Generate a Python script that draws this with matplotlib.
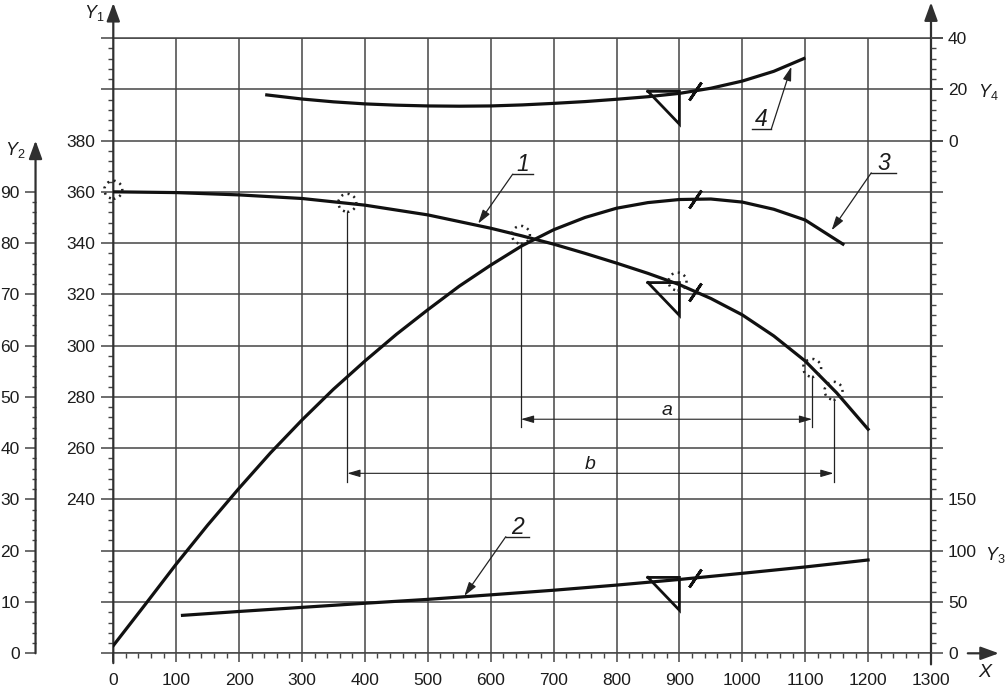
import numpy as np
import matplotlib
matplotlib.use('Agg')
import matplotlib.pyplot as plt
from matplotlib.patches import Ellipse
from matplotlib.ticker import MultipleLocator, FixedLocator

plt.rcParams['font.family'] = ['Liberation Sans', 'DejaVu Sans']
plt.rcParams['mathtext.fontset'] = 'custom'
plt.rcParams['mathtext.rm'] = 'Liberation Sans'
plt.rcParams['mathtext.it'] = 'Liberation Sans:italic'

# curve 1 (left axis Y1)
x1 = [0, 100, 200, 300, 400, 500, 600, 650, 700, 750, 800, 850, 900, 950,
      1000, 1050, 1100, 1150, 1200]
y1 = [360, 359.7, 358.8, 357.4, 354.8, 351.0, 345.8, 342.8, 339.6, 336.0, 332.2,
      328.2, 323.8, 318.4, 312.0, 303.8, 294.0, 281.6, 267.4]
# curve 2 (right axis Y3)
x2 = [110, 200, 300, 400, 500, 600, 700, 800, 900, 1000, 1100, 1200]
y2 = [37.0, 40.8, 44.8, 48.8, 52.6, 57.0, 61.5, 66.5, 72.0, 78.0, 84.2, 91.0]
# curve 3 (left axis Y2)
x3 = [0, 50, 100, 150, 200, 250, 300, 350, 400, 450, 500, 550, 600, 650, 700,
      750, 800, 850, 900, 950, 1000, 1050, 1100, 1160]
y3 = [1.5, 9.4, 17.4, 25.0, 32.2, 39.1, 45.5, 51.5, 57.0, 62.2, 67.0, 71.6, 75.7,
      79.5, 82.6, 85.0, 86.8, 87.9, 88.5, 88.6, 88.0, 86.6, 84.5, 79.8]
# curve 4 (right axis Y4)
x4 = [244, 300, 350, 400, 450, 500, 550, 600, 650, 700, 750, 800, 850, 900, 950,
      1000, 1050, 1098]
y4 = [17.8, 16.2, 15.1, 14.3, 13.8, 13.5, 13.4, 13.5, 13.9, 14.5, 15.2, 16.1, 17.1,
      18.4, 20.4, 23.2, 27.0, 32.0]

# dotted circles on curve 1 and the two dimensions a, b
circle_x = [0, 372, 648, 897, 1111, 1145]
circle_y = [360.8, 355.7, 343.2, 325.0, 291.3, 282.4]
dim_a_x, dim_a_y = [648, 1111], 271.3
dim_b_x, dim_b_y = [372, 1145], 250.2

x_ticks = list(range(0, 1301, 100))
y1_ticks = list(range(180, 421, 20))
y1_labeled = list(range(240, 381, 20))
y2_ticks = list(range(0, 91, 10))
y3_ticks = list(range(0, 601, 50))
y3_labeled = [0, 50, 100, 150]
y4_ticks = [0, 20, 40]

gc = '#454545'
ink = '#111111'
txt = '#1c1c1c'
fs = 12.5

W, H = 1006, 689
L, R, B, T = 113.3, 931.0, 653.3, 38.0
fig = plt.figure(figsize=(W / 100, H / 100), dpi=100)
ax = fig.add_axes([L / W, 1 - B / H, (R - L) / W, (B - T) / H])
ax.set_xlim(0, 1300)
ax.set_ylim(180, 420)

ax.set_xticks(x_ticks)
ax.xaxis.set_minor_locator(MultipleLocator(20))
ax.set_yticks(y1_ticks)
ax.set_yticklabels([str(v) if v in y1_labeled else '' for v in y1_ticks])
ax.yaxis.set_minor_locator(MultipleLocator(4))
ax.grid(True, which='major', color=gc, lw=1.1)
ax.tick_params(axis='x', which='major', direction='out', length=6.5, width=1.1,
               color=gc, labelsize=fs, pad=7.5, labelcolor=txt)
ax.tick_params(axis='x', which='minor', direction='out', length=3.6, width=1.0, color=gc)
ax.tick_params(axis='y', which='major', direction='out', length=8.6, width=1.1,
               color=gc, labelsize=fs, pad=4.3, labelcolor=txt)
ax.tick_params(axis='y', which='minor', direction='out', length=3.6, width=1.0, color=gc)
for s in ['left', 'right']:
    ax.spines[s].set_visible(False)
for s in ['top', 'bottom']:
    ax.spines[s].set_color(gc)
    ax.spines[s].set_linewidth(1.1)

# Y2 axis on the far left
ax2 = ax.twinx()
ax2.set_ylim(0, 120)
for s in ax2.spines.values():
    s.set_visible(False)
y2_pos = -0.0951
ax2.spines['left'].set_position(('axes', y2_pos))
ax2.yaxis.tick_left()
ax2.set_yticks(y2_ticks)
ax2.yaxis.set_minor_locator(FixedLocator([v for v in range(0, 91, 2) if v % 10]))
ax2.tick_params(axis='y', which='major', direction='out', length=7.9, width=1.1,
                color=gc, labelsize=fs, pad=3.6, labelcolor=txt)
ax2.tick_params(axis='y', which='minor', direction='out', length=3.2, width=1.0, color=gc)

# Y3 and Y4 on the right
ax3 = ax.twinx()
ax3.set_ylim(0, 600)
ax3.set_yticks(y3_ticks)
ax3.set_yticklabels([str(v) if v in y3_labeled else '' for v in y3_ticks])
ax3.yaxis.set_minor_locator(MultipleLocator(10))
ax3.tick_params(axis='y', which='major', direction='out', length=8.6, width=1.1,
                color=gc, labelsize=fs, pad=3.6, labelcolor=txt)
ax3.tick_params(axis='y', which='minor', direction='out', length=3.6, width=1.0, color=gc)
ax4 = ax.twinx()
ax4.set_ylim(-200, 40)
ax4.set_yticks(y4_ticks)
ax4.tick_params(axis='y', which='major', direction='out', length=8.6, width=1.1,
                color=gc, labelsize=fs, pad=3.6, labelcolor=txt)
for a in (ax3, ax4):
    for s in a.spines.values():
        s.set_visible(False)

# axis lines with arrows
axis_arrow = dict(arrowstyle='-|>,head_length=0.55,head_width=0.2', mutation_scale=20,
                  lw=1.6, color='#303030', shrinkA=0, shrinkB=0)
ax.annotate('', xy=(0, 1.057), xytext=(0, -0.016), xycoords=ax.get_xaxis_transform(),
            arrowprops=axis_arrow)
ax.annotate('', xy=(1300, 1.058), xytext=(1300, -0.018), xycoords=ax.get_xaxis_transform(),
            arrowprops=axis_arrow)
ax.annotate('', xy=(1.083, 0), xytext=(1.045, 0), xycoords='axes fraction',
            arrowprops=axis_arrow)
ax2.annotate('', xy=(y2_pos, 100), xytext=(y2_pos, 0), xycoords=ax2.get_yaxis_transform(),
             arrowprops=axis_arrow)

# axis names
ax.text(-0.0237, 1.04, '$Y_1$', transform=ax.transAxes, ha='center', va='center',
        fontsize=13, color=txt)
ax.text(-0.1197, 0.818, '$Y_2$', transform=ax.transAxes, ha='center', va='center',
        fontsize=13, color=txt)
ax.text(1.058, 0.912, '$Y_4$', transform=ax.transAxes, ha='left', va='center',
        fontsize=13, color=txt)
ax.text(1.066, 0.160, '$Y_3$', transform=ax.transAxes, ha='left', va='center',
        fontsize=13, color=txt)
ax.text(1.066, -0.032, 'X', transform=ax.transAxes, ha='center', va='center',
        fontsize=14, style='italic', color=txt)

# curves
ax.plot(x1, y1, color=ink, lw=2.3, zorder=5)
ax3.plot(x2, y2, color=ink, lw=2.3, zorder=5)
ax2.plot(x3, y3, color=ink, lw=2.3, zorder=5)
ax4.plot(x4, y4, color=ink, lw=2.3, zorder=5)

# datum triangles at X = 900 and slashes at X = 925
for a, xs, ys, span in [(ax, x1, y1, 20), (ax3, x2, y2, 50), (ax4, x4, y4, 20)]:
    top = np.interp(900, xs, ys) + 0.04 * span
    a.plot([850, 900, 900, 850], [top, top, top - 0.64 * span, top], color=ink, lw=2.0,
           solid_joinstyle='miter', zorder=6)
for a, xs, ys in [(ax, x1, y1), (ax3, x2, y2), (ax2, x3, y3), (ax4, x4, y4)]:
    a.plot([925], [np.interp(925, xs, ys)], marker=(2, 2, -34), ms=15.5, mew=2.0,
           color=ink, zorder=6)

# dotted circles
for cx, cy in zip(circle_x, circle_y):
    ax.add_patch(Ellipse((cx, cy), 28.6, 7.0, fill=False, ec='#222222', lw=1.8,
                         ls=(0, (0.8, 1.8)), zorder=7, clip_on=False))

# dimensions a and b
thin = '#222222'
dim_arrow = dict(arrowstyle='<|-|>,head_length=0.55,head_width=0.16', mutation_scale=14,
                 lw=0.8, color=thin, shrinkA=0, shrinkB=0)
for xs, yd, name in [(dim_a_x, dim_a_y, 'a'), (dim_b_x, dim_b_y, 'b')]:
    for xv in xs:
        cy = circle_y[circle_x.index(xv)]
        ax.plot([xv, xv], [cy - 3.5, yd - 3.2], color=thin, lw=0.9, zorder=4)
    ax.annotate('', xy=(xs[1], yd), xytext=(xs[0], yd), arrowprops=dim_arrow)
    ax.text((xs[0] + xs[1]) / 2, yd + 3.6, name, ha='center', va='center',
            fontsize=14, style='italic', color=txt)

# leader labels
lead_arrow = dict(arrowstyle='-|>,head_length=0.6,head_width=0.18', mutation_scale=14,
                  lw=0.9, color=thin, shrinkA=0, shrinkB=0)
for a, name, ux, uy, tip, side in [
        (ax, '1', (635, 667), 366.9, (580, 347.6), 0),
        (ax3, '2', (624, 661), 113.7, (558, 55.9), 0),
        (ax2, '3', (1205, 1244), 93.7, (1142, 82.5), 0),
        (ax4, '4', (1015, 1046), 4.4, (1078, 28.8), 1)]:
    a.plot(ux, [uy, uy], color=thin, lw=1.0, clip_on=False)
    a.annotate('', xy=tip, xytext=(ux[side], uy), arrowprops=lead_arrow)
    a.annotate(name, xy=((ux[0] + ux[1]) / 2, uy), xytext=(0, 2), textcoords='offset points',
               ha='center', va='baseline', fontsize=16.5, style='italic', color=txt)

fig.savefig('out.png', dpi=100)
